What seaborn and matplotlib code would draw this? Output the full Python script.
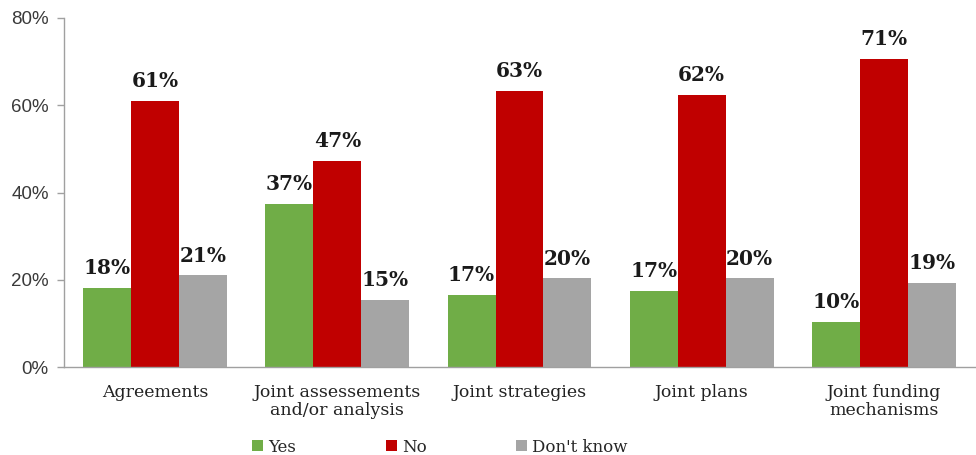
import matplotlib
matplotlib.use("Agg")
import matplotlib.pyplot as plt
import seaborn as sns
import pandas as pd
import numpy as np

categories = ["Agreements", "Joint assessements\nand/or analysis", "Joint strategies",
              "Joint plans", "Joint funding\nmechanisms"]
series_names = ["Yes", "No", "Don't know"]
yes_vals = [18.2, 37.4, 16.6, 17.4, 10.3]
no_vals = [61.0, 47.2, 63.3, 62.4, 70.6]
dk_vals = [21.0, 15.4, 20.3, 20.3, 19.3]
colors = ["#70AD47", "#C00000", "#A5A5A5"]
y_ticks = [0, 20, 40, 60, 80]

rows = []
for s, vals in zip(series_names, [yes_vals, no_vals, dk_vals]):
    for c, v in zip(categories, vals):
        rows.append({"category": c, "series": s, "value": v})
df = pd.DataFrame(rows)

sns.set_style("white")
fig = plt.figure(figsize=(9.76, 4.55), dpi=100)
ax = fig.add_axes([64/976, 1-367/455, 911/976, (367-18)/455])

sns.barplot(data=df, x="category", y="value", hue="series", palette=colors,
            hue_order=series_names, order=categories, width=0.79, saturation=1,
            linewidth=0, edgecolor="none", ax=ax, legend=True)

for cont in ax.containers:
    ax.bar_label(cont, labels=[f"{round(b.get_height()):d}%" for b in cont],
                 padding=7, fontsize=14.5, fontweight="bold",
                 fontfamily="DejaVu Serif", color="#1a1a1a")

ax.set_ylim(0, 80)
ax.set_yticks(y_ticks)
ax.set_yticklabels([f"{t}%" for t in y_ticks], fontsize=13.5, fontfamily="Liberation Sans", color="#3a3a3a")
ax.set_xlim(-0.5, len(categories) - 0.5)
ax.set_xticks(range(len(categories)))
ax.set_xticklabels(categories, fontsize=12.5, fontfamily="DejaVu Serif", color="#222222",
                   linespacing=1.1)
ax.set_xticks(np.arange(-0.5, len(categories), 1.0), minor=True)
ax.tick_params(axis="x", which="major", length=0, pad=12)
ax.tick_params(axis="x", which="minor", length=5, color="#a0a0a0", direction="out", width=1)
ax.tick_params(axis="y", length=5, color="#a0a0a0", direction="out", width=1, left=True, pad=6)
ax.set_xlabel("")
ax.set_ylabel("")
for side in ["top", "right"]:
    ax.spines[side].set_visible(False)
for side in ["left", "bottom"]:
    ax.spines[side].set_color("#a0a0a0")
    ax.spines[side].set_linewidth(1)

handles, labels = ax.get_legend_handles_labels()
ax.get_legend().remove()
leg = fig.legend(handles, labels, loc="center", bbox_to_anchor=(440/976, 1-447/455), ncol=3,
                 frameon=False, handlelength=0.65, handleheight=0.65, handletextpad=0.3,
                 columnspacing=5.4, prop={"family": "DejaVu Serif", "size": 12})

fig.savefig("out.png", dpi=100)
